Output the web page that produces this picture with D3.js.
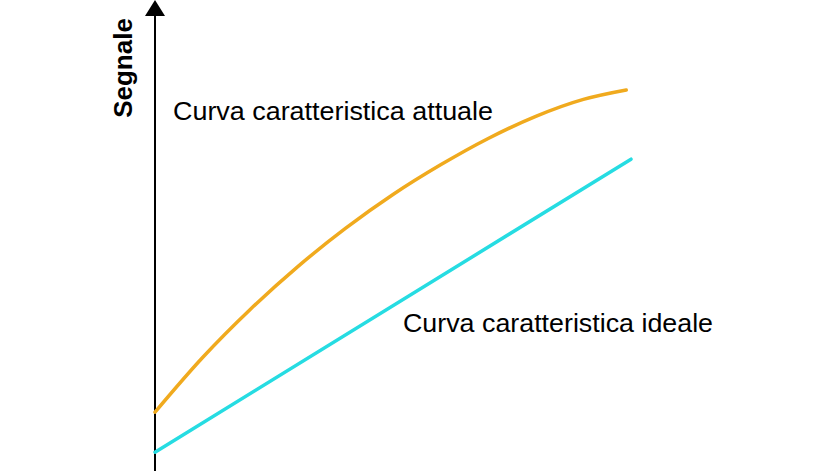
<!DOCTYPE html>
<html>
<head>
<meta charset="utf-8">
<script src="https://cdn.jsdelivr.net/npm/d3@7"></script>
<style>
  html, body { margin: 0; padding: 0; background: #fff; }
  svg { display: block; }
</style>
</head>
<body>
<script>
// signal vs. input, arbitrary units 0..100 on both axes
const actualX = [0, 10, 20, 30, 40, 50, 60, 70, 80, 90, 99];
const actualY = [12.5, 24.1, 34.3, 43.4, 51.5, 58.7, 65.0, 70.6, 75.3, 78.9, 80.9];
const idealX = [0, 100];
const idealY = [4.0, 66.2];

const labels = {
  yAxis: "Segnale",
  actual: "Curva caratteristica attuale",
  ideal: "Curva caratteristica ideale"
};

const W = 838, H = 471;
const COLORS = { actual: "#F0AA1E", ideal: "#26DCE2", axis: "#000" };

const svg = d3.select("body").append("svg")
  .attr("width", W)
  .attr("height", H)
  .style("font-family", "'Liberation Sans', Arial, sans-serif");

const x = d3.scaleLinear().domain([0, 100]).range([155, 631]);
const y = d3.scaleLinear().domain([0, 100]).range([H, 0]);

// vertical axis with arrow head
svg.append("line")
  .attr("x1", x(0)).attr("x2", x(0))
  .attr("y1", H).attr("y2", 12)
  .attr("stroke", COLORS.axis)
  .attr("stroke-width", 2);

svg.append("path")
  .attr("d", `M${x(0)},0 L${x(0) - 10},16 L${x(0) + 10},16 Z`)
  .attr("fill", COLORS.axis);

svg.append("text")
  .attr("transform", `translate(132, 68) rotate(-90)`)
  .attr("text-anchor", "middle")
  .attr("font-size", 26)
  .attr("font-weight", "bold")
  .attr("fill", "#000")
  .text(labels.yAxis);

const line = d3.line()
  .x(d => x(d[0]))
  .y(d => y(d[1]))
  .curve(d3.curveMonotoneX);

svg.append("path")
  .datum(d3.zip(idealX, idealY))
  .attr("d", line)
  .attr("fill", "none")
  .attr("stroke", COLORS.ideal)
  .attr("stroke-width", 3.5)
  .attr("stroke-linecap", "round");

svg.append("path")
  .datum(d3.zip(actualX, actualY))
  .attr("d", line)
  .attr("fill", "none")
  .attr("stroke", COLORS.actual)
  .attr("stroke-width", 3.5)
  .attr("stroke-linecap", "round");

// the source renders these labels a little wide, so stretch to the measured width
svg.append("text")
  .attr("x", 173).attr("y", 120)
  .attr("font-size", 25)
  .attr("textLength", 320)
  .attr("lengthAdjust", "spacingAndGlyphs")
  .attr("fill", "#000")
  .text(labels.actual);

svg.append("text")
  .attr("x", 403).attr("y", 332)
  .attr("font-size", 25)
  .attr("textLength", 310)
  .attr("lengthAdjust", "spacingAndGlyphs")
  .attr("fill", "#000")
  .text(labels.ideal);
</script>
</body>
</html>
